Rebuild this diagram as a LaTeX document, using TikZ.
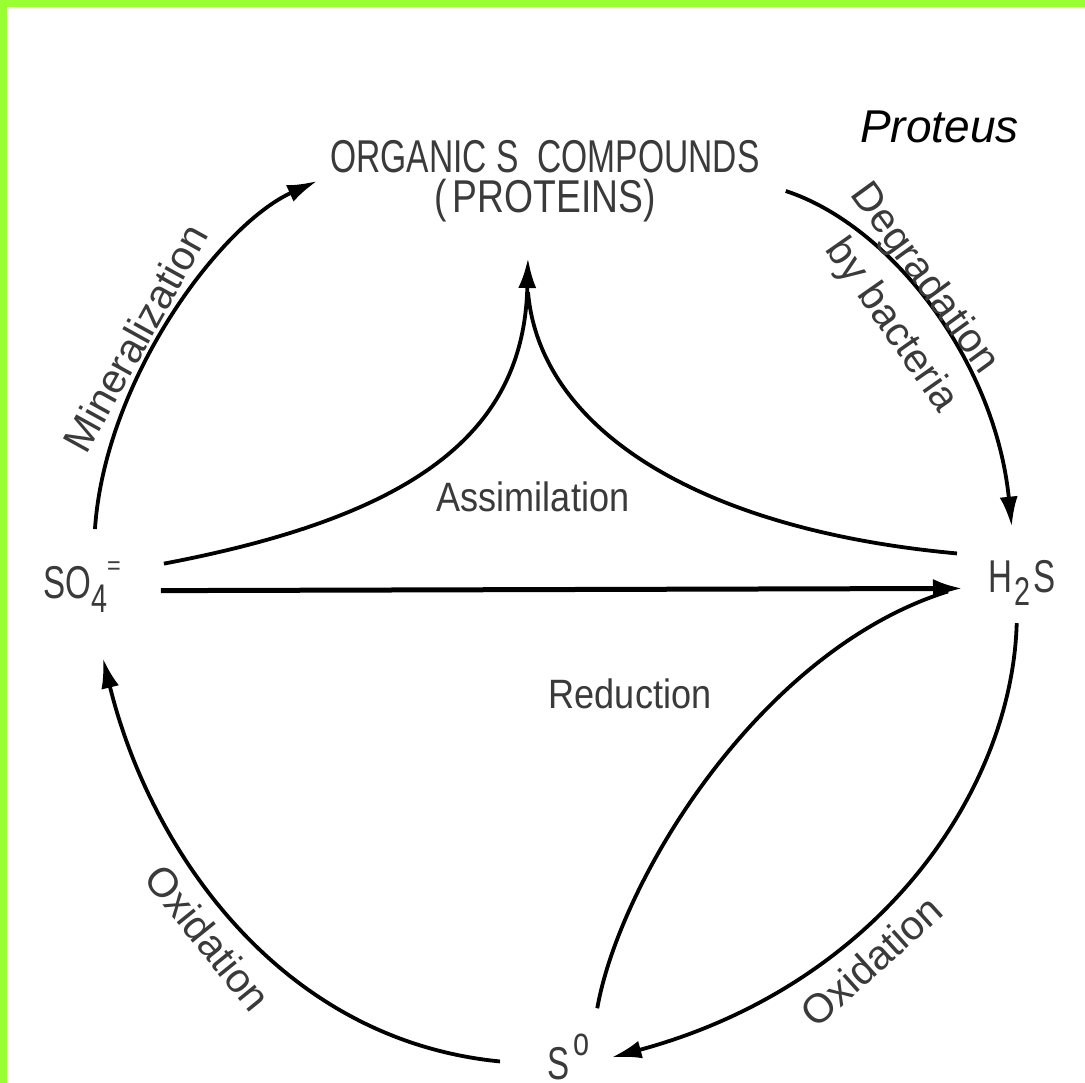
\documentclass[tikz,border=0pt]{standalone}
\usepackage{fontspec}
\setmainfont{Liberation Sans}
\usepackage{graphicx}
\usetikzlibrary{arrows.meta}
\definecolor{border}{RGB}{153,255,51}
\definecolor{txt}{HTML}{3A3A3A}
\newcommand{\cx}[2]{\scalebox{#1}[1]{#2}}
\begin{document}
\begin{tikzpicture}[x=1pt,y=-1pt,
  arr/.style={line width=3.8pt,-{Latex[length=30pt,width=18pt]}},
  ln/.style={line width=3.8pt},
  lab/.style={text=txt,font=\fontsize{41}{46}\selectfont,inner sep=0pt},
  chem/.style={text=txt,font=\fontsize{46}{50}\selectfont,inner sep=0pt,anchor=base west},
]
\useasboundingbox (0,0) rectangle (1085,1083);
\fill[white] (0,0) rectangle (1085,1083);
\fill[border] (0,0) rectangle (1085,7);
\fill[border] (0,0) rectangle (7,1083);

% main nodes
\node (org) [text=txt, inner sep=0pt, align=center, font=\fontsize{46}{40}\selectfont] at (545,181)
  {\cx{0.73}{ORGANIC S\ \ COMPOUNDS}\\\cx{0.81}{(\,PROTEINS)}};
\node (prot) [anchor=base west, inner sep=0pt, font=\fontsize{46}{50}\selectfont\itshape] at (860,143) {Proteus};
\node (so4) [chem] at (43,598)
  {\cx{0.72}{SO}\raisebox{-14pt}{\fontsize{40}{44}\selectfont\cx{0.72}{4}}\raisebox{24pt}{\fontsize{26}{28}\selectfont\cx{0.9}{=}}};
\node (h2s) [chem] at (988,592)
  {\cx{0.72}{H}\kern2pt\raisebox{-13pt}{\fontsize{40}{44}\selectfont\cx{0.72}{2}}\kern3pt\cx{0.72}{S}};
\node (s0) [chem] at (547,1079)
  {\cx{0.72}{S}\kern4pt\raisebox{24pt}{\fontsize{40}{44}\selectfont\cx{0.72}{o}}};

\coordinate (apex) at (528,258);
\coordinate (apj) at (528,292);

% Mineralization
\draw[arr] ([shift={(13,-32)}]so4.north) .. controls (105,380) and (220,225) .. ([shift={(-13,0)}]org.west);
% Degradation
\draw[arr] ([shift={(26,10)}]org.east) .. controls (890,225) and (995,360) .. ([shift={(-10,-33)}]h2s.north);
% Assimilation
\draw[arr] ([shift={(43,-23)}]so4.east) .. controls (420,515) and (524,430) .. (apex);
\draw[ln] ([shift={(-31,-29)}]h2s.west) .. controls (700,530) and (540,430) .. (apj);
% straight
\draw[line width=5pt,-{Latex[length=30pt,width=19pt]}] ([shift={(40,4)}]so4.east) -- ([shift={(-25,6)}]h2s.west);
% Reduction
\draw[ln] ([shift={(29,-25)}]s0.north) .. controls (620,880) and (760,650) .. ([shift={(-40,9)}]h2s.west);
% Oxidation right
\draw[arr] ([shift={(-5,18)}]h2s.south) .. controls (1012,790) and (880,985) .. ([shift={(22,1)}]s0.east);
% Oxidation left
\draw[arr] ([shift={(-47,5)}]s0.west) .. controls (280,1040) and (150,850) .. ([shift={(21,46)}]so4.south);

% labels
\node (lmin) [lab, rotate=61] at (135,338) {Mineralization};
\node (ldeg) [lab, rotate=-54] at (924,279) {Degradation};
\node (lby) [lab, rotate=-55] at (891,326) {by bacteria};
\node (lox1) [lab, rotate=-51] at (208,938) {Oxidation};
\node (lox2) [lab, rotate=42] at (871,961) {Oxidation};
\node (lass) [lab] at (533,497) {\cx{0.88}{Assimilation}};
\node (lred) [lab] at (630,694) {\cx{0.88}{Reduction}};
\end{tikzpicture}
\end{document}
